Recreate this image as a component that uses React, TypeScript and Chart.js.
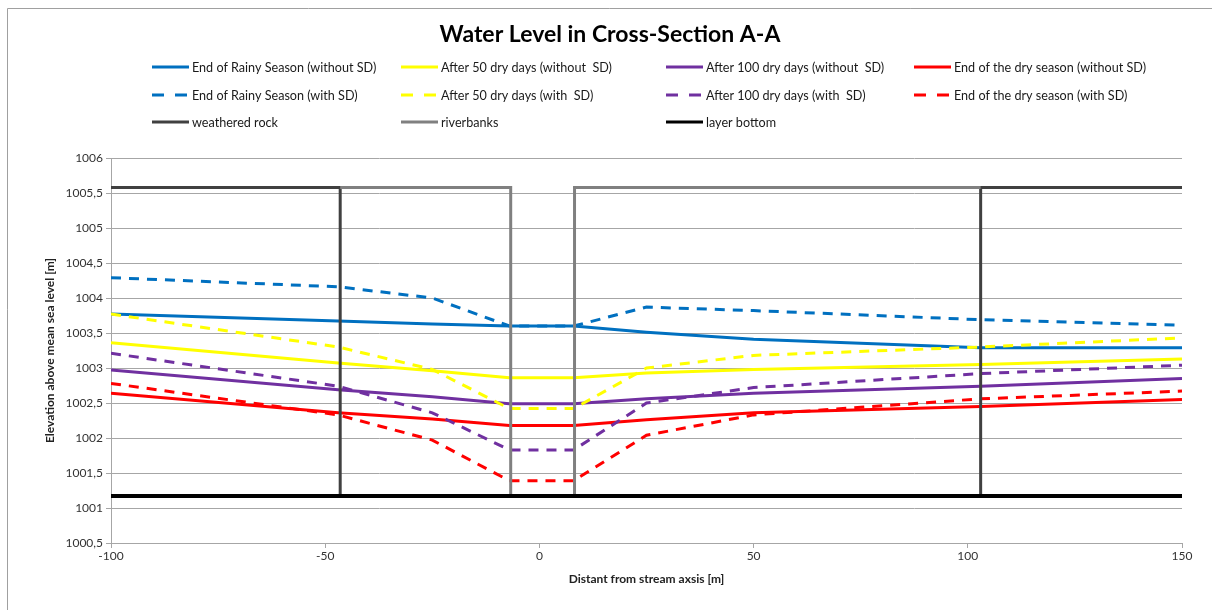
import { useEffect, useRef } from "react";
import { Chart, registerables } from "chart.js";

Chart.register(...registerables);

// ---- Data ----
const xPositions = [-100, -47, -25, -7, 8, 25, 50, 103, 150];

const rainyWithout = [1003.77, 1003.67, 1003.63, 1003.6, 1003.6, 1003.51, 1003.41, 1003.29, 1003.29];
const dry50Without = [1003.36, 1003.07, 1002.96, 1002.86, 1002.86, 1002.93, 1002.98, 1003.05, 1003.13];
const dry100Without = [1002.97, 1002.69, 1002.59, 1002.49, 1002.49, 1002.56, 1002.64, 1002.74, 1002.85];
const drySeasonWithout = [1002.64, 1002.36, 1002.27, 1002.18, 1002.18, 1002.26, 1002.36, 1002.45, 1002.55];

const rainyWith = [1004.29, 1004.16, 1004.0, 1003.6, 1003.6, 1003.87, 1003.82, 1003.69, 1003.61];
const dry50With = [1003.77, 1003.3, 1002.98, 1002.42, 1002.42, 1003.0, 1003.18, 1003.3, 1003.43];
const dry100With = [1003.21, 1002.74, 1002.36, 1001.83, 1001.83, 1002.5, 1002.72, 1002.92, 1003.04];
const drySeasonWith = [1002.78, 1002.33, 1001.97, 1001.39, 1001.39, 1002.04, 1002.33, 1002.56, 1002.67];

const rockX = [-100, -46.5, -46.5, 103, 103, 150];
const rockY = [1005.58, 1005.58, 1001.17, 1001.17, 1005.58, 1005.58];
const bankX = [-46.5, -6.7, -6.7, 8.2, 8.2, 103];
const bankY = [1005.58, 1005.58, 1001.17, 1001.17, 1005.58, 1005.58];
const bottomX = [-100, 150];
const bottomY = [1001.17, 1001.17];

const seriesLabels = [
  "End of Rainy Season (without SD)",
  "After 50 dry days (without  SD)",
  "After 100 dry days (without  SD)",
  "End of the dry season (without SD)",
  "End of Rainy Season (with SD)",
  "After 50 dry days (with  SD)",
  "After 100 dry days (with  SD)",
  "End of the dry season (with SD)",
  "weathered rock",
  "riverbanks",
  "layer bottom",
];

const TITLE = "Water Level in Cross-Section A-A";
const X_TITLE = "Distant from stream axsis [m]";
const Y_TITLE = "Elevation above mean sea level [m]";

const BLUE = "#0070C0";
const YELLOW = "#FFFF00";
const PURPLE = "#7030A0";
const RED = "#FF0000";
const FONT = "Lato, 'Open Sans', sans-serif";
const DASH = [10, 8];

const pts = (xs: number[], ys: number[]) => xs.map((x, i) => ({ x, y: ys[i] }));

const legendPlugin = {
  id: "customTitleLegend",
  beforeDraw(chart: any) {
    const ctx = chart.ctx;
    ctx.save();
    ctx.fillStyle = "#ffffff";
    ctx.fillRect(0, 0, chart.width, chart.height);
    ctx.strokeStyle = "#a0a0a0";
    ctx.lineWidth = 1;
    ctx.beginPath();
    ctx.moveTo(7.5, chart.height);
    ctx.lineTo(7.5, 8.5);
    ctx.lineTo(chart.width, 8.5);
    ctx.stroke();
    ctx.restore();
  },
  afterDraw(chart: any) {
    const ctx = chart.ctx;
    ctx.save();
    ctx.fillStyle = "#000000";
    ctx.font = `bold 23px ${FONT}`;
    ctx.textAlign = "center";
    ctx.textBaseline = "middle";
    ctx.fillText(TITLE, 610, 35);
    const colX = [152, 401, 666, 914];
    const rowY = [67, 95, 122];
    ctx.font = `12.6px ${FONT}`;
    ctx.textAlign = "left";
    chart.data.datasets.forEach((ds: any, i: number) => {
      const col = i % 4;
      const row = Math.floor(i / 4);
      const x = colX[col];
      const y = rowY[row];
      ctx.strokeStyle = ds.borderColor;
      ctx.lineWidth = 3;
      ctx.setLineDash(ds.borderDash && ds.borderDash.length ? [12, 11] : []);
      ctx.beginPath();
      ctx.moveTo(x, y);
      ctx.lineTo(x + 37, y);
      ctx.stroke();
      ctx.setLineDash([]);
      ctx.fillStyle = "#1a1a1a";
      ctx.fillText(ds.label, x + 40, y + 1);
    });
    ctx.restore();
  },
};

export default function App() {
  const canvasRef = useRef<HTMLCanvasElement | null>(null);

  useEffect(() => {
    document.body.style.margin = "0";
    const canvas = canvasRef.current;
    if (!canvas) return;

    const waterSeries = [
      { data: rainyWithout, color: BLUE, dash: [] as number[] },
      { data: dry50Without, color: YELLOW, dash: [] as number[] },
      { data: dry100Without, color: PURPLE, dash: [] as number[] },
      { data: drySeasonWithout, color: RED, dash: [] as number[] },
      { data: rainyWith, color: BLUE, dash: DASH },
      { data: dry50With, color: YELLOW, dash: DASH },
      { data: dry100With, color: PURPLE, dash: DASH },
      { data: drySeasonWith, color: RED, dash: DASH },
    ];

    const datasets: any[] = waterSeries.map((s, i) => ({
      label: seriesLabels[i],
      data: pts(xPositions, s.data),
      borderColor: s.color,
      backgroundColor: s.color,
      borderWidth: 3,
      borderDash: s.dash,
      pointRadius: 0,
      tension: 0,
      fill: false,
      order: 20 - i,
    }));
    datasets.push({
      label: seriesLabels[8],
      data: pts(rockX, rockY),
      borderColor: "#404040",
      backgroundColor: "#404040",
      borderWidth: 3,
      borderDash: [],
      pointRadius: 0,
      fill: false,
      order: 3,
    });
    datasets.push({
      label: seriesLabels[9],
      data: pts(bankX, bankY),
      borderColor: "#808080",
      backgroundColor: "#808080",
      borderWidth: 3,
      borderDash: [],
      pointRadius: 0,
      fill: false,
      order: 2,
    });
    datasets.push({
      label: seriesLabels[10],
      data: pts(bottomX, bottomY),
      borderColor: "#000000",
      backgroundColor: "#000000",
      borderWidth: 4,
      borderDash: [],
      pointRadius: 0,
      fill: false,
      order: 1,
    });

    const chart = new Chart(canvas, {
      type: "line",
      data: { datasets },
      options: {
        animation: false,
        responsive: false,
        maintainAspectRatio: false,
        layout: { padding: { top: 158, right: 30, left: 0, bottom: 0 } },
        plugins: {
          legend: { display: false },
          title: { display: false },
          tooltip: { enabled: false },
        },
        scales: {
          x: {
            type: "linear",
            min: -100,
            max: 150,
            ticks: {
              stepSize: 50,
              color: "#333333",
              font: { family: FONT, size: 12 },
              padding: 1,
              maxRotation: 0,
            },
            grid: { drawOnChartArea: false, drawTicks: true, tickLength: 5, color: "#a6a6a6" },
            border: { color: "#a6a6a6" },
            title: {
              display: true,
              text: X_TITLE,
              color: "#222222",
              font: { family: FONT, size: 12, weight: "bold" },
              padding: { top: 0, bottom: 24 },
            },
            afterFit: (scale: any) => {
              scale.height = 67;
            },
          },
          y: {
            type: "linear",
            min: 1000.5,
            max: 1006,
            ticks: {
              stepSize: 0.5,
              color: "#333333",
              font: { family: FONT, size: 12 },
              padding: 3,
              callback: (v: any) => String(v).replace(".", ","),
            },
            grid: { drawOnChartArea: true, drawTicks: true, tickLength: 5, color: "#a6a6a6" },
            border: { color: "#a6a6a6" },
            title: {
              display: true,
              text: Y_TITLE,
              color: "#222222",
              font: { family: FONT, size: 12, weight: "bold" },
              padding: { top: 43, bottom: 0 },
            },
            afterFit: (scale: any) => {
              scale.width = 111;
            },
          },
        },
      } as any,
      plugins: [legendPlugin],
    });

    return () => chart.destroy();
  }, []);

  return (
    <div style={{ width: 1212, height: 610 }}>
      <canvas ref={canvasRef} width={1212} height={610} style={{ display: "block", width: 1212, height: 610 }} />
    </div>
  );
}
